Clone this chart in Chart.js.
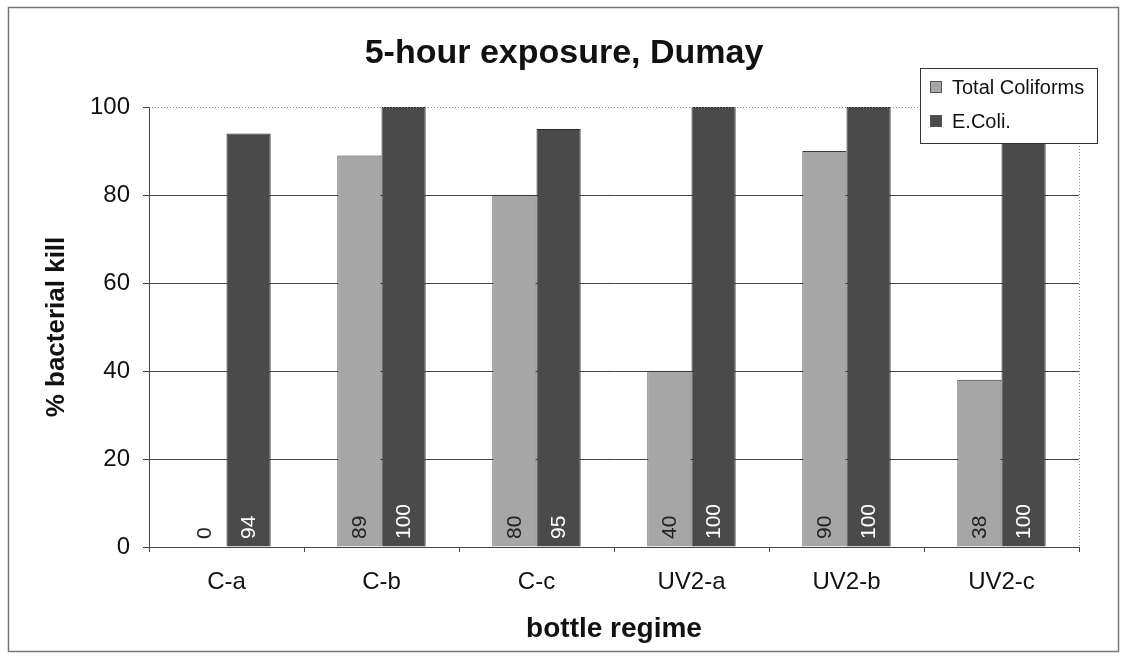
<!DOCTYPE html>
<html>
<head>
<meta charset="utf-8">
<script src="https://cdn.jsdelivr.net/npm/chart.js@4/dist/chart.umd.min.js"></script>
<style>
  html, body { margin: 0; padding: 0; background: #fff; }
  #wrap { position: relative; width: 1128px; height: 660px; }
</style>
</head>
<body>
<div id="wrap"><canvas id="killChart"></canvas></div>
<script>
// 5-hour exposure, Dumay - bacterial kill per bottle regime

const regimes = ['C-a', 'C-b', 'C-c', 'UV2-a', 'UV2-b', 'UV2-c'];
const totalColiforms = [0, 89, 80, 40, 90, 38];
const eColi = [94, 100, 95, 100, 100, 100];
const yTicks = [0, 20, 40, 60, 80, 100];

const FONT = '"Liberation Sans", Arial, sans-serif';

// 外框、標題、點線邊、柱內數值、圖例
const decorPlugin = {
    id: 'decor',
    beforeDraw(chart) {
        const c = chart.ctx;
        c.save();
        c.fillStyle = '#fff';
        c.fillRect(0, 0, chart.width, chart.height);
        c.strokeStyle = '#777';
        c.lineWidth = 1.5;
        c.strokeRect(8.5, 7.5, 1110, 644);
        c.restore();
    },
    afterDatasetsDraw(chart) {
        const c = chart.ctx;
        const area = chart.chartArea;
        c.save();

        // dotted top and right edge of plot area
        c.strokeStyle = '#888';
        c.lineWidth = 1;
        c.setLineDash([1, 2]);
        c.beginPath();
        c.moveTo(area.left, area.top + 0.5);
        c.lineTo(area.right + 0.5, area.top + 0.5);
        c.lineTo(area.right + 0.5, area.bottom);
        c.stroke();
        c.setLineDash([]);

        // vertical value labels at bar bottoms
        c.font = '21px ' + FONT;
        c.textAlign = 'left';
        c.textBaseline = 'middle';
        chart.data.datasets.forEach((ds, di) => {
            const meta = chart.getDatasetMeta(di);
            meta.data.forEach((bar, i) => {
                c.save();
                c.translate(bar.x, area.bottom - 8);
                c.rotate(-Math.PI / 2);
                c.fillStyle = di === 0 ? '#222' : '#fff';
                c.fillText(String(ds.data[i]), 0, 1);
                c.restore();
            });
        });

        // title
        c.fillStyle = '#111';
        c.font = 'bold 34px ' + FONT;
        c.textAlign = 'center';
        c.textBaseline = 'middle';
        c.fillText('5-hour exposure, Dumay', 564, 54);

        // legend box
        c.fillStyle = '#fff';
        c.fillRect(920, 68, 177, 75);
        c.strokeStyle = '#333';
        c.lineWidth = 1;
        c.strokeRect(920.5, 68.5, 177, 75);
        c.font = '20px ' + FONT;
        c.textAlign = 'left';
        chart.data.datasets.forEach((ds, di) => {
            const y = 87 + di * 34;
            c.fillStyle = ds.backgroundColor;
            c.fillRect(930, y - 6, 12, 12);
            c.strokeStyle = '#555';
            c.strokeRect(930.5, y - 5.5, 11, 11);
            c.fillStyle = '#111';
            c.fillText(ds.label, 952, y + 1);
        });
        c.restore();
    }
};

new Chart(document.getElementById('killChart'), {
    type: 'bar',
    data: {
        labels: regimes,
        datasets: [
            {
                label: 'Total Coliforms',
                data: totalColiforms,
                backgroundColor: '#a6a6a6',
                borderColor: '#3a3a3a',
                borderWidth: 1
            },
            {
                label: 'E.Coli.',
                data: eColi,
                backgroundColor: '#4a4a4a',
                borderColor: '#2a2a2a',
                borderWidth: 1
            }
        ]
    },
    options: {
        responsive: true,
        maintainAspectRatio: false,
        animation: false,
        devicePixelRatio: 1,
        layout: {
            padding: { top: 107, right: 49, bottom: 13, left: 0 }
        },
        plugins: {
            legend: { display: false },
            title: { display: false },
            tooltip: { enabled: false }
        },
        datasets: {
            bar: {
                categoryPercentage: 0.57,
                barPercentage: 1
            }
        },
        scales: {
            x: {
                grid: {
                    offset: true,
                    drawOnChartArea: false,
                    drawTicks: true,
                    tickLength: 5,
                    color: '#444'
                },
                border: { color: '#444', width: 1 },
                ticks: {
                    color: '#111',
                    padding: 16,
                    font: { family: FONT, size: 24 }
                },
                title: {
                    display: true,
                    text: 'bottle regime',
                    color: '#111',
                    font: { family: FONT, size: 28, weight: 'bold' },
                    padding: { top: 0, bottom: 1 }
                },
                afterFit(scale) { scale.height = 100; }
            },
            y: {
                min: 0,
                max: 100,
                afterBuildTicks(scale) {
                    scale.ticks = yTicks.map(v => ({ value: v }));
                },
                grid: {
                    color: ctx => (ctx.tick && ctx.tick.value === 100) ? 'rgba(0,0,0,0)' : '#444',
                    tickColor: '#444',
                    tickLength: 6,
                    lineWidth: 1
                },
                border: { color: '#444', width: 1 },
                ticks: {
                    color: '#111',
                    padding: 13,
                    font: { family: FONT, size: 24 }
                },
                title: {
                    display: true,
                    text: '% bacterial kill',
                    color: '#111',
                    font: { family: FONT, size: 26, weight: 'bold' },
                    padding: { top: 41, bottom: 0 }
                },
                afterFit(scale) { scale.width = 149; }
            }
        }
    },
    plugins: [decorPlugin]
});
</script>
</body>
</html>
